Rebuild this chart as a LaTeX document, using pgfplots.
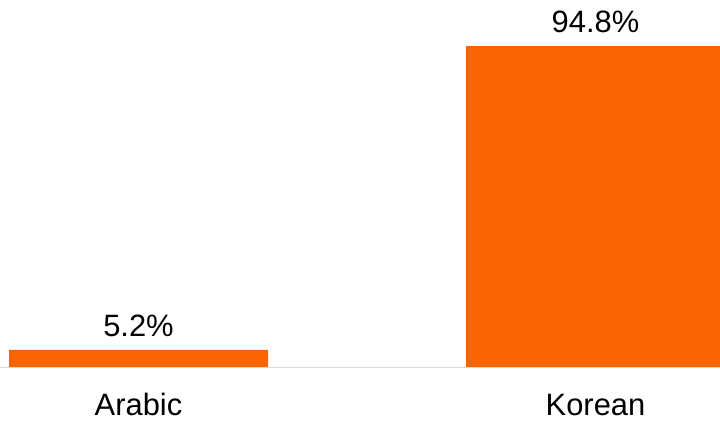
\documentclass[border=0pt]{standalone}
\usepackage{pgfplots}
\pgfplotsset{compat=1.18}
\usepackage{fontspec}
\setmainfont{Liberation Sans}
\definecolor{barorange}{RGB}{247,100,0}
\definecolor{basegray}{RGB}{217,217,217}
\begin{document}
\begin{tikzpicture}
\begin{axis}[
  scale only axis,
  width=720bp, height=422bp,
  xmin=-0.3031, xmax=1.2724,
  ymin=-16.07, ymax=108.36,
  axis line style={draw=none},
  ytick=\empty,
  xtick=data,
  xticklabels={Arabic,Korean},
  major tick length=0pt,
  /pgf/number format/assume math mode=true,
  x tick label style={font=\fontsize{31}{37}\selectfont, anchor=base, inner sep=0pt, yshift=7bp},
  ybar,
  bar width=0.5667,
  nodes near coords={\pgfmathprintnumber[fixed,precision=1,fixed zerofill,assume math mode=true]{\pgfplotspointmeta}\%},
  nodes near coords style={font=\fontsize{31}{37}\selectfont, anchor=south, inner sep=0pt, yshift=13bp, text=black},
  clip=true,
]
\addplot[fill=barorange, draw=none] coordinates {(0,5.2) (1,94.8)};
\draw[draw=basegray, line width=1.5bp] (axis cs:-0.3031,0) -- (axis cs:1.2724,0);
\end{axis}
\end{tikzpicture}
\end{document}
